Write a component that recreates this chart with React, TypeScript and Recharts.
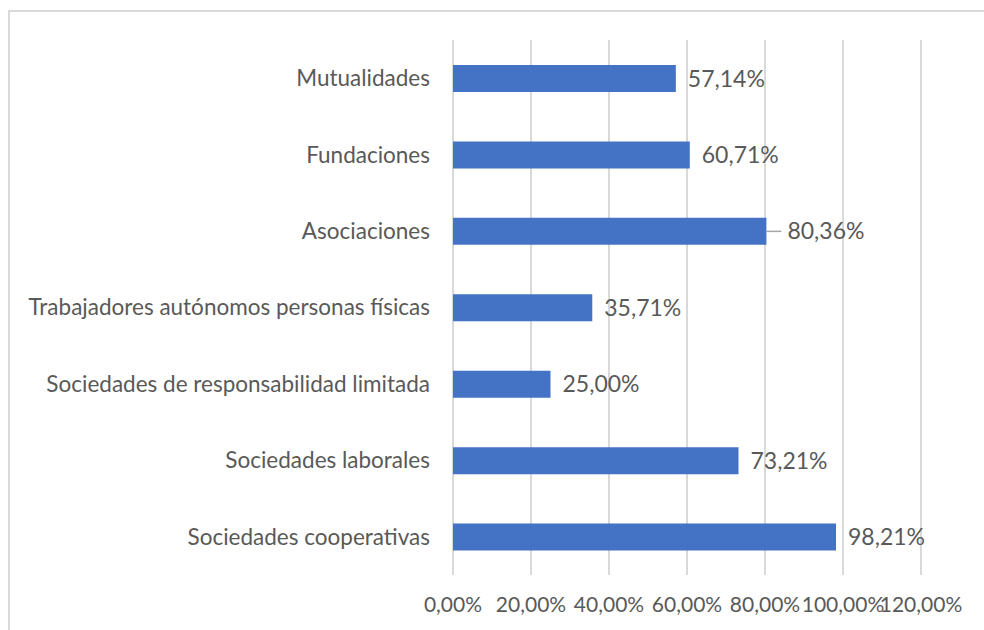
import React from 'react';
import { BarChart, Bar, XAxis, YAxis, CartesianGrid, LabelList } from 'recharts';

const categories = [
  'Mutualidades',
  'Fundaciones',
  'Asociaciones',
  'Trabajadores autónomos personas físicas',
  'Sociedades de responsabilidad limitada',
  'Sociedades laborales',
  'Sociedades cooperativas',
];

const values = [57.14, 60.71, 80.36, 35.71, 25.0, 73.21, 98.21];

const xTicks = [0, 20, 40, 60, 80, 100, 120];

const data = categories.map((name, i) => ({ name, value: values[i] }));

const FONT = 'Lato, "Open Sans", sans-serif';
const TEXT = '#595959';
const BAR = '#4472c4';

const pct = (v: number) => `${v.toFixed(2).replace('.', ',')}%`;

// value label to the right of each bar; Asociaciones has a short leader line
const ValueLabel = (props: any) => {
  const { x, y, width, height, value, index } = props;
  const end = x + width;
  const cy = y + height / 2;
  const leader = index === 2;
  const tx = end + (leader ? 21 : 12);
  return (
    <g>
      {leader && <line x1={end} y1={cy} x2={end + 15} y2={cy} stroke="#a6a6a6" strokeWidth={1.5} />}
      <text x={tx} y={cy} dy="0.35em" fill={TEXT} fontSize={23} fontFamily={FONT}>
        {pct(value)}
      </text>
    </g>
  );
};

export default function App() {
  return (
    <div style={{ position: 'fixed', left: 0, top: 0, width: 984, height: 630, background: '#fff' }}>
      <div
        style={{
          position: 'absolute',
          left: 8,
          top: 10,
          width: 1000,
          height: 700,
          border: '2px solid #d9d9d9',
          boxSizing: 'border-box',
        }}
      />
      <div style={{ position: 'absolute', left: 0, top: 0 }}>
        <BarChart
          width={984}
          height={630}
          data={data}
          layout="vertical"
          margin={{ top: 40, right: 63, bottom: 25, left: 0 }}
          barSize={27}
        >
          <CartesianGrid horizontal={false} vertical stroke="#d9d9d9" strokeWidth={2} />
          <XAxis
            type="number"
            domain={[0, 120]}
            ticks={xTicks}
            tickFormatter={pct}
            axisLine={false}
            tickLine={false}
            tickMargin={16}
            height={30}
            interval={0}
            tick={{ fill: TEXT, fontSize: 21, fontFamily: FONT }}
          />
          <YAxis
            type="category"
            dataKey="name"
            width={453}
            axisLine={false}
            tickLine={false}
            tickMargin={17}
            interval={0}
            tick={{ fill: TEXT, fontSize: 22.5, fontFamily: FONT }}
          />
          <Bar dataKey="value" fill={BAR} isAnimationActive={false}>
            <LabelList dataKey="value" content={ValueLabel} />
          </Bar>
        </BarChart>
      </div>
    </div>
  );
}
